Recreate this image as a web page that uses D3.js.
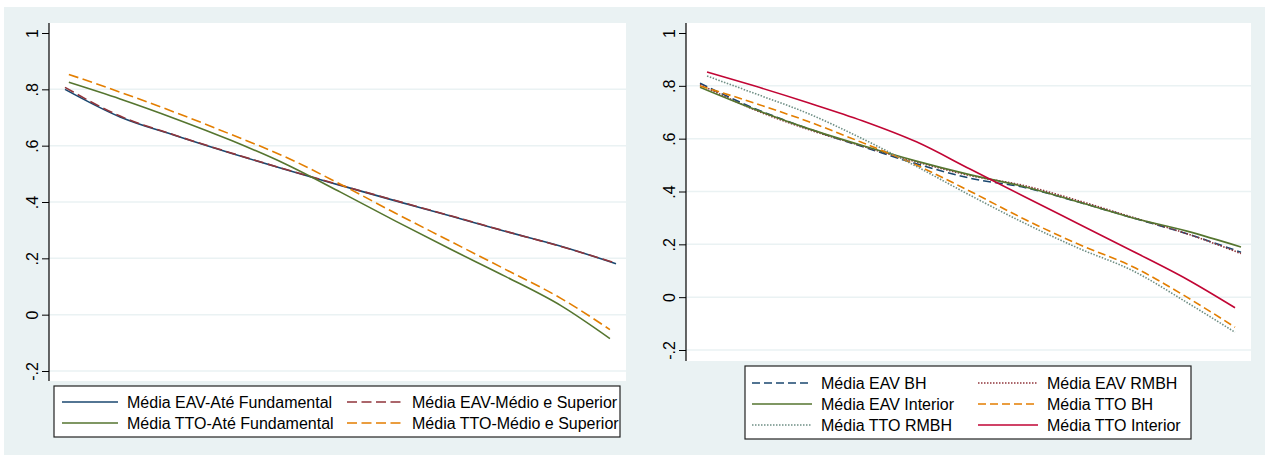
<!DOCTYPE html>
<html>
<head>
<meta charset="utf-8">
<script src="https://cdn.jsdelivr.net/npm/d3@7/dist/d3.min.js"></script>
<style>
  body { margin: 0; background: #fff; }
  text { font-family: Arial, "Liberation Sans", sans-serif; }
</style>
</head>
<body>
<svg id="chart" width="1265" height="455"></svg>
<script>
let width = 1265;
let height = 455;

let yTicks = [-0.2, 0, 0.2, 0.4, 0.6, 0.8, 1];
let yTickLabels = ["-.2", "0", ".2", ".4", ".6", ".8", "1"];

// left panel - escolaridade
let xEavLeft = [0, 10, 20, 30, 40, 50, 60, 70, 80, 90, 100];
let xTtoLeft = [0.7, 10, 20, 30, 40, 50, 60, 70, 80, 90, 98.9];
let eavFund   = [0.800, 0.702, 0.636, 0.574, 0.515, 0.459, 0.404, 0.350, 0.295, 0.243, 0.181];
let eavMedSup = [0.807, 0.705, 0.637, 0.575, 0.516, 0.460, 0.405, 0.351, 0.296, 0.242, 0.183];
let ttoFund   = [0.825, 0.766, 0.696, 0.620, 0.535, 0.435, 0.332, 0.232, 0.135, 0.032, -0.085];
let ttoMedSup = [0.853, 0.790, 0.718, 0.641, 0.560, 0.463, 0.360, 0.260, 0.160, 0.058, -0.053];

// right panel - regiao
let xEavRight = [0, 10, 20, 30, 40, 50, 60, 70, 80, 90, 100];
let xTtoBH = [0, 10, 20, 30, 40, 50, 60, 70, 80, 90, 98.9];
let xTtoRight = [1.3, 10, 20, 30, 40, 50, 60, 70, 80, 90, 98.9];
let eavBH       = [0.810, 0.715, 0.638, 0.570, 0.505, 0.450, 0.415, 0.360, 0.300, 0.240, 0.170];
let eavRMBH     = [0.805, 0.710, 0.635, 0.572, 0.512, 0.460, 0.422, 0.365, 0.302, 0.240, 0.165];
let eavInterior = [0.795, 0.712, 0.638, 0.574, 0.515, 0.463, 0.418, 0.360, 0.300, 0.250, 0.190];
let ttoBH       = [0.800, 0.735, 0.665, 0.585, 0.500, 0.400, 0.295, 0.200, 0.115, 0.000, -0.114];
let ttoRMBH     = [0.837, 0.772, 0.695, 0.600, 0.495, 0.385, 0.280, 0.185, 0.100, -0.020, -0.133];
let ttoInterior = [0.852, 0.800, 0.736, 0.668, 0.588, 0.484, 0.380, 0.277, 0.174, 0.068, -0.040];

let leftSeries = [
  {name: "Média EAV-Até Fundamental", xs: xEavLeft, ys: eavFund, color: "#1a476f", dash: null},
  {name: "Média EAV-Médio e Superior", xs: xEavLeft, ys: eavMedSup, color: "#90353b", dash: "10,4.5"},
  {name: "Média TTO-Até Fundamental", xs: xTtoLeft, ys: ttoFund, color: "#55752f", dash: null},
  {name: "Média TTO-Médio e Superior", xs: xTtoLeft, ys: ttoMedSup, color: "#e37e00", dash: "10,4.5"}
];

let rightSeries = [
  {name: "Média EAV BH", xs: xEavRight, ys: eavBH, color: "#1a476f", dash: "8,4"},
  {name: "Média EAV RMBH", xs: xEavRight, ys: eavRMBH, color: "#90353b", dash: "1.5,1.5"},
  {name: "Média EAV Interior", xs: xEavRight, ys: eavInterior, color: "#55752f", dash: null},
  {name: "Média TTO BH", xs: xTtoBH, ys: ttoBH, color: "#e37e00", dash: "8,4"},
  {name: "Média TTO RMBH", xs: xTtoRight, ys: ttoRMBH, color: "#6e8e84", dash: "1.5,1.5"},
  {name: "Média TTO Interior", xs: xTtoRight, ys: ttoInterior, color: "#c10534", dash: null}
];

let svg = d3.select("#chart");

svg.append("rect")
  .attr("x", 4).attr("y", 7)
  .attr("width", width - 4).attr("height", height - 7)
  .attr("fill", "#eaf2f3");

const drawPanel = (p, series) => {
  let x = d3.scaleLinear().domain([0, 100]).range([p.x0, p.x1]);
  let y = d3.scaleLinear().domain([-0.2, 1]).range([p.yLow, p.yHigh]);
  let g = svg.append("g");

  g.append("rect")
    .attr("x", p.left).attr("y", p.top)
    .attr("width", p.right - p.left).attr("height", p.bottom - p.top)
    .attr("fill", "#fff");

  g.selectAll("line.grid")
    .data(yTicks.filter(d => d < 1))
    .enter()
    .append("line")
    .attr("class", "grid")
    .attr("x1", p.left).attr("x2", p.right)
    .attr("y1", d => y(d)).attr("y2", d => y(d))
    .attr("stroke", "#eaf2f3")
    .attr("stroke-width", 1.5);

  let axis = d3.axisLeft(y)
    .tickValues(yTicks)
    .tickFormat((d, i) => yTickLabels[i])
    .tickSize(7)
    .tickSizeOuter(0);

  let ax = g.append("g")
    .attr("transform", `translate(${p.left},0)`)
    .call(axis);
  ax.select(".domain").remove();
  ax.selectAll(".tick line").attr("stroke", "#000");
  ax.selectAll(".tick text")
    .attr("transform", "rotate(-90)")
    .attr("x", 0).attr("y", -11).attr("dy", 0)
    .attr("text-anchor", "middle")
    .attr("fill", "#000")
    .style("font-family", "Arial, 'Liberation Sans', sans-serif")
    .style("font-size", "16px");

  g.append("line")
    .attr("x1", p.left).attr("x2", p.left)
    .attr("y1", p.top).attr("y2", p.bottom)
    .attr("stroke", "#000").attr("stroke-width", 1.2);

  let line = d3.line()
    .x(d => x(d[0]))
    .y(d => y(d[1]))
    .curve(d3.curveMonotoneX);

  g.selectAll("path.series")
    .data(series)
    .enter()
    .append("path")
    .attr("class", "series")
    .attr("fill", "none")
    .attr("stroke", d => d.color)
    .attr("stroke-width", 1.6)
    .attr("stroke-dasharray", d => d.dash)
    .attr("d", d => line(d.xs.map((v, i) => [v, d.ys[i]])));

  // legend
  let lg = g.append("g");
  lg.append("rect")
    .attr("x", p.leg.x).attr("y", p.leg.y)
    .attr("width", p.leg.w).attr("height", p.leg.h)
    .attr("fill", "#fff")
    .attr("stroke", "#222")
    .attr("stroke-width", 1.2);

  let items = lg.selectAll("g.item")
    .data(series)
    .enter()
    .append("g")
    .attr("class", "item")
    .attr("transform", (d, i) => `translate(${p.leg.cols[i % 2]},${p.leg.rows[Math.floor(i / 2)]})`);

  items.append("line")
    .attr("x1", 0).attr("x2", p.leg.sample)
    .attr("y1", 0).attr("y2", 0)
    .attr("stroke", d => d.color)
    .attr("stroke-width", 1.6)
    .attr("stroke-dasharray", d => d.dash);

  items.append("text")
    .attr("x", p.leg.sample + 9)
    .attr("y", 0)
    .attr("dy", "0.36em")
    .attr("font-size", 16)
    .attr("fill", "#000")
    .text(d => d.name);
};

drawPanel({
  left: 49, right: 626, top: 23, bottom: 381,
  x0: 65, x1: 616, yLow: 371, yHigh: 33,
  leg: {x: 54, y: 386, w: 566, h: 51, cols: [62, 347], rows: [402, 423], sample: 56}
}, leftSeries);

drawPanel({
  left: 686, right: 1251, top: 23, bottom: 361,
  x0: 700, x1: 1241, yLow: 350, yHigh: 33,
  leg: {x: 745, y: 366, w: 446, h: 73, cols: [752, 978], rows: [383, 404, 425], sample: 60}
}, rightSeries);
</script>
</body>
</html>
